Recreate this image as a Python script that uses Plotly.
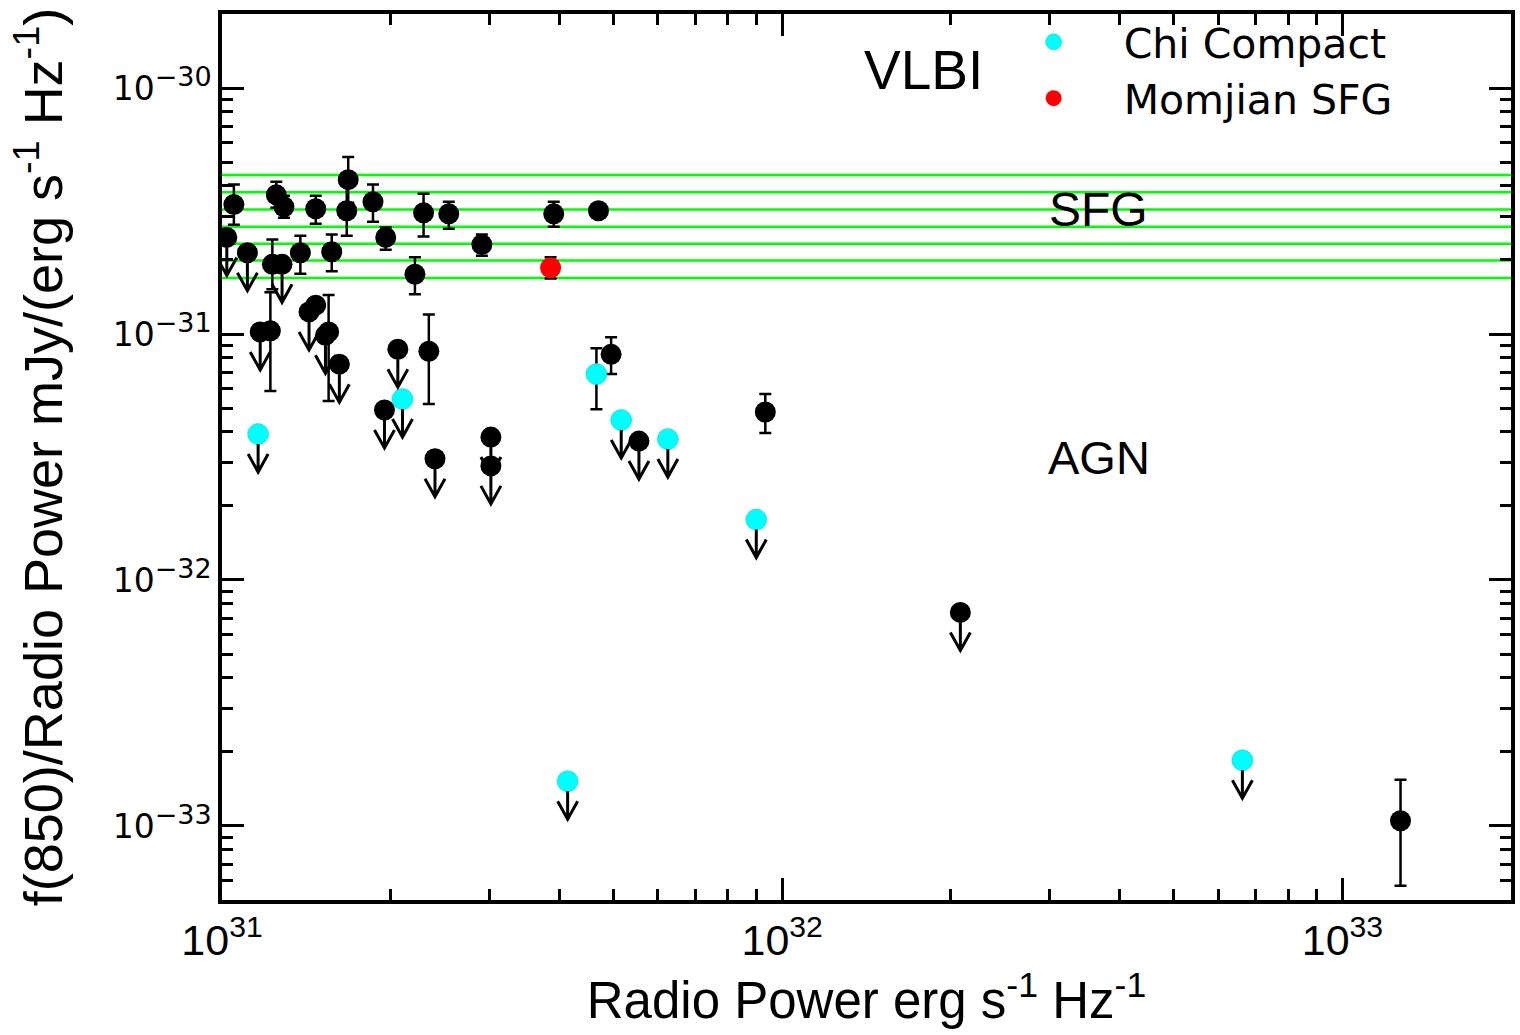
import numpy as np
import plotly.graph_objects as go

# ---------------- data ----------------
# Black: detections with error bars
det_x = [1.05e31, 1.25e31, 1.29e31, 1.47e31, 1.68e31, 1.67e31, 1.86e31, 1.96e31,
         2.29e31, 2.54e31, 2.91e31, 1.23e31, 1.38e31, 1.57e31, 2.21e31, 3.91e31,
         1.22e31, 1.55e31, 2.34e31, 4.95e31, 9.33e31, 1.27e33]
det_y = [3.36e-31, 3.68e-31, 3.29e-31, 3.23e-31, 4.24e-31, 3.17e-31, 3.45e-31, 2.47e-31,
         3.11e-31, 3.08e-31, 2.31e-31, 1.92e-31, 2.14e-31, 2.16e-31, 1.75e-31, 3.08e-31,
         1.03e-31, 1.02e-31, 8.51e-32, 8.27e-32, 4.82e-32, 1.05e-33]
det_hi = [4.05e-31, 4.16e-31, 3.65e-31, 3.65e-31, 5.25e-31, 4.01e-31, 4.05e-31, 2.71e-31,
          3.72e-31, 3.45e-31, 2.54e-31, 2.42e-31, 2.51e-31, 2.54e-31, 2.05e-31, 3.45e-31,
          1.48e-31, 1.44e-31, 1.20e-31, 9.70e-32, 5.70e-32, 1.54e-33]
det_lo = [2.78e-31, 3.26e-31, 2.97e-31, 2.81e-31, 3.42e-31, 2.51e-31, 2.86e-31, 2.20e-31,
          2.49e-31, 2.68e-31, 2.08e-31, 1.52e-31, 1.76e-31, 1.80e-31, 1.45e-31, 2.73e-31,
          5.86e-32, 5.34e-32, 5.19e-32, 6.87e-32, 3.96e-32, 5.72e-34]

# Black: detections without visible error bars
plain_x = [4.70e31, 1.47e31]
plain_y = [3.17e-31, 1.31e-31]

# Black: upper limits
lim_x = [1.02e31, 1.11e31, 1.28e31, 1.17e31, 1.43e31, 1.53e31, 1.62e31, 2.06e31,
         1.95e31, 2.40e31, 3.02e31, 3.02e31, 5.55e31, 2.08e32]
lim_y = [2.47e-31, 2.14e-31, 1.92e-31, 1.02e-31, 1.23e-31, 9.88e-32, 7.54e-32, 8.67e-32,
         4.91e-32, 3.11e-32, 3.81e-32, 2.91e-32, 3.67e-32, 7.38e-33]

# Chi Compact (cyan): upper limits and one detection
chi_lim_x = [1.16e31, 2.10e31, 5.16e31, 6.25e31, 8.99e31, 4.14e31, 6.63e32]
chi_lim_y = [3.92e-32, 5.44e-32, 4.47e-32, 3.74e-32, 1.76e-32, 1.52e-33, 1.85e-33]
chi_det_x = [4.66e31]
chi_det_y = [6.87e-32]
chi_det_hi = [8.75e-32]
chi_det_lo = [4.95e-32]

# Momjian SFG (red)
mom_x = [3.86e31]
mom_y = [1.86e-31]
mom_hi = [2.05e-31]
mom_lo = [1.68e-31]

# SFG band (green horizontal lines)
sfg_levels = [4.43e-31, 3.77e-31, 3.21e-31, 2.73e-31, 2.33e-31, 1.99e-31, 1.69e-31]

# axes
x_range = [1e31, 2e33]
y_range = [5e-34, 2e-30]
x_tickvals = [1e31, 1e32, 1e33]
x_ticktext = ["10<sup>31</sup>", "10<sup>32</sup>", "10<sup>33</sup>"]
y_tickvals = [1e-33, 1e-32, 1e-31, 1e-30]
y_ticktext = ["10<sup><span style='font-size:27px'>\u221233</span></sup>",
              "10<sup><span style='font-size:27px'>\u221232</span></sup>",
              "10<sup><span style='font-size:27px'>\u221231</span></sup>",
              "10<sup><span style='font-size:27px'>\u221230</span></sup>"]

# ---------------- styles ----------------
MSIZE = 21
ERR = dict(color="black", thickness=2.5, width=6)
# upper-limit arrow, in pixels relative to the point (y up): shaft + open V head
ARROW_PATH = "M0,-10 L0,-38 M-10,-20 L0,-38 L10,-20"

fig = go.Figure()

for lvl in sfg_levels:
    fig.add_trace(go.Scatter(x=x_range, y=[lvl, lvl], mode="lines",
                             line=dict(color="#00FF00", width=2.5),
                             showlegend=False, hoverinfo="skip"))

dy = np.array(det_y)
fig.add_trace(go.Scatter(
    x=det_x, y=det_y, mode="markers", showlegend=False,
    marker=dict(size=MSIZE, color="black"),
    error_y=dict(type="data", symmetric=False,
                 array=np.array(det_hi) - dy, arrayminus=dy - np.array(det_lo), **ERR)))

fig.add_trace(go.Scatter(x=plain_x, y=plain_y, mode="markers", showlegend=False,
                         marker=dict(size=MSIZE, color="black")))

fig.add_trace(go.Scatter(x=lim_x, y=lim_y, mode="markers", showlegend=False,
                         marker=dict(size=MSIZE, color="black")))

cy = np.array(chi_det_y)
fig.add_trace(go.Scatter(
    x=chi_det_x, y=chi_det_y, mode="markers", showlegend=False,
    marker=dict(size=MSIZE, color="#00FFFF", line=dict(color="#20C8C8", width=0.6)),
    error_y=dict(type="data", symmetric=False,
                 array=np.array(chi_det_hi) - cy, arrayminus=cy - np.array(chi_det_lo), **ERR)))

fig.add_trace(go.Scatter(x=chi_lim_x, y=chi_lim_y, mode="markers", name="Chi Compact",
                         marker=dict(size=MSIZE, color="#00FFFF",
                                     line=dict(color="#20C8C8", width=0.6))))

my = np.array(mom_y)
fig.add_trace(go.Scatter(
    x=mom_x, y=mom_y, mode="markers", name="Momjian SFG",
    marker=dict(size=MSIZE, color="#FF0000"),
    error_y=dict(type="data", symmetric=False,
                 array=np.array(mom_hi) - my, arrayminus=my - np.array(mom_lo), **ERR)))


def add_limit_arrows(xs, ys):
    for xv, yv in zip(xs, ys):
        fig.add_shape(type="path", xref="x", yref="y",
                      xsizemode="pixel", ysizemode="pixel", xanchor=xv, yanchor=yv,
                      path=ARROW_PATH, line=dict(color="black", width=3), layer="above")


add_limit_arrows(lim_x, lim_y)
add_limit_arrows(chi_lim_x, chi_lim_y)

# text labels
for txt, px, py, sz in [("VLBI", 0.5445, 0.937, 55), ("SFG", 0.680, 0.779, 48),
                        ("AGN", 0.680, 0.499, 47)]:
    fig.add_annotation(x=px, y=py, xref="paper", yref="paper", text=txt, showarrow=False,
                       xanchor="center", yanchor="middle",
                       font=dict(family="Liberation Sans", size=sz, color="black"))

minor_x = [m * 10.0 ** e for e in (31, 32) for m in range(2, 10)] + [2e33]
minor_y = [m * 10.0 ** e for e in (-34, -33, -32, -31, -30) for m in range(2, 10)]
minor_y = [v for v in minor_y if y_range[0] <= v <= y_range[1]]

axis_common = dict(type="log", showgrid=False, zeroline=False, showline=True,
                   linecolor="black", linewidth=3.5, mirror="allticks",
                   ticks="inside", ticklen=22, tickwidth=3, tickcolor="black",
                   tickmode="array")

fig.update_xaxes(range=[np.log10(x_range[0]), np.log10(x_range[1])],
                 tickvals=x_tickvals, ticktext=x_ticktext,
                 tickfont=dict(family="Liberation Sans", size=43, color="black"),
                 minor=dict(ticks="inside", ticklen=11, tickwidth=3, tickcolor="black",
                            tickmode="array", tickvals=minor_x, showgrid=False),
                 title=dict(text="Radio Power erg s<sup>-1</sup> Hz<sup>-1</sup>",
                            font=dict(family="Liberation Sans", size=51, color="black"),
                            standoff=20),
                 **axis_common)
fig.update_yaxes(range=[np.log10(y_range[0]), np.log10(y_range[1])],
                 tickvals=y_tickvals, ticktext=y_ticktext,
                 tickfont=dict(family="DejaVu Sans", size=33, color="black"),
                 minor=dict(ticks="inside", ticklen=11, tickwidth=3, tickcolor="black",
                            tickmode="array", tickvals=minor_y, showgrid=False),
                 title=dict(text="f(850)/Radio Power mJy/(erg s<sup>-1</sup> Hz<sup>-1</sup>)",
                            font=dict(family="Liberation Sans", size=54, color="black"),
                            standoff=34),
                 **axis_common)

fig.update_layout(
    width=1520, height=1035,
    margin=dict(l=222, r=5, t=14, b=135),
    paper_bgcolor="white", plot_bgcolor="white",
    font=dict(family="Liberation Sans", color="black"),
    showlegend=True,
    legend=dict(x=(986 - 222) / 1293, y=1.006, xanchor="left", yanchor="top",
                itemwidth=130, itemsizing="trace", bgcolor="rgba(0,0,0,0)",
                font=dict(family="DejaVu Sans", size=41, color="black")),
)

fig.write_html("out.html")
